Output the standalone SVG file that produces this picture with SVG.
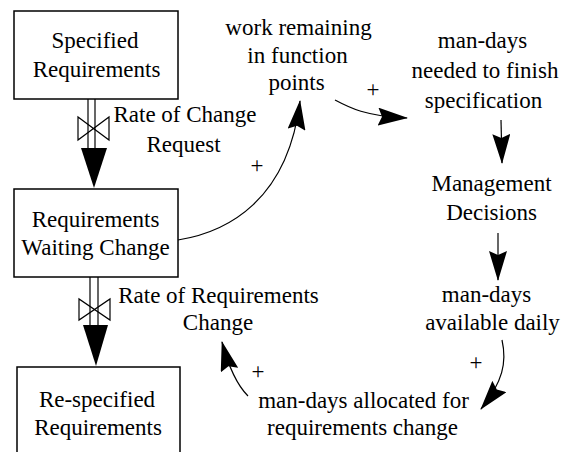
<svg xmlns="http://www.w3.org/2000/svg" width="569" height="452" viewBox="0 0 569 452" font-family="Liberation Serif, serif">
<rect width="569" height="452" fill="#fff"/>

<g id="specified-requirements">
<rect x="14" y="11" width="164" height="88" fill="#fff" stroke="#000" stroke-width="1.5"/>
<text x="95" y="48" style="font-family:'Liberation Serif',serif;font-size:23px" text-anchor="middle" fill="#000">Specified</text>
<text x="96.5" y="77" style="font-family:'Liberation Serif',serif;font-size:23px" text-anchor="middle" fill="#000">Requirements</text>
</g>

<g id="requirements-waiting-change">
<rect x="14" y="189" width="164" height="88" fill="#fff" stroke="#000" stroke-width="1.5"/>
<text x="95.5" y="227" style="font-family:'Liberation Serif',serif;font-size:23px" text-anchor="middle" fill="#000">Requirements</text>
<text x="95.5" y="255" style="font-family:'Liberation Serif',serif;font-size:23px" text-anchor="middle" fill="#000">Waiting Change</text>
</g>

<g id="re-specified-requirements">
<rect x="17" y="367" width="163" height="100" fill="#fff" stroke="#000" stroke-width="1.5"/>
<text x="97" y="407" style="font-family:'Liberation Serif',serif;font-size:23px" text-anchor="middle" fill="#000">Re-specified</text>
<text x="98" y="435" style="font-family:'Liberation Serif',serif;font-size:23px" text-anchor="middle" fill="#000">Requirements</text>
</g>

<g id="rate-of-change-request">
<line x1="88" y1="99" x2="88" y2="150" stroke="#000" stroke-width="1.2"/>
<line x1="95" y1="99" x2="95" y2="150" stroke="#000" stroke-width="1.2"/>
<path d="M78,117 L78,140 L109,117 L109,140 Z" fill="none" stroke="#000" stroke-width="1.2"/>
<polygon points="81,148 107,148 94,188" fill="#000"/>
<text x="185" y="122" style="font-family:'Liberation Serif',serif;font-size:23px" text-anchor="middle" fill="#000">Rate of Change</text>
<text x="183.5" y="152" style="font-family:'Liberation Serif',serif;font-size:23px" text-anchor="middle" fill="#000">Request</text>
</g>

<g id="rate-of-requirements-change">
<line x1="90" y1="277" x2="90" y2="327" stroke="#000" stroke-width="1.2"/>
<line x1="98" y1="277" x2="98" y2="327" stroke="#000" stroke-width="1.2"/>
<path d="M79,299 L79,320 L110,299 L110,320 Z" fill="none" stroke="#000" stroke-width="1.2"/>
<polygon points="83,325 108,325 96,366" fill="#000"/>
<text x="218.5" y="303" style="font-family:'Liberation Serif',serif;font-size:23px" text-anchor="middle" fill="#000">Rate of Requirements</text>
<text x="218" y="330" style="font-family:'Liberation Serif',serif;font-size:23px" text-anchor="middle" fill="#000">Change</text>
</g>

<g id="work-remaining">
<text x="298.5" y="35" style="font-family:'Liberation Serif',serif;font-size:23px" text-anchor="middle" fill="#000">work remaining</text>
<text x="297.5" y="63" style="font-family:'Liberation Serif',serif;font-size:23px" text-anchor="middle" fill="#000">in function</text>
<text x="296.5" y="90" style="font-family:'Liberation Serif',serif;font-size:23px" text-anchor="middle" fill="#000">points</text>
</g>

<g id="man-days-needed">
<text x="482.5" y="48" style="font-family:'Liberation Serif',serif;font-size:23px" text-anchor="middle" fill="#000">man-days</text>
<text x="485" y="78" style="font-family:'Liberation Serif',serif;font-size:23px" text-anchor="middle" fill="#000">needed to finish</text>
<text x="483.5" y="108" style="font-family:'Liberation Serif',serif;font-size:23px" text-anchor="middle" fill="#000">specification</text>
</g>

<g id="management-decisions">
<text x="491.5" y="191" style="font-family:'Liberation Serif',serif;font-size:23px" text-anchor="middle" fill="#000">Management</text>
<text x="491.5" y="220" style="font-family:'Liberation Serif',serif;font-size:23px" text-anchor="middle" fill="#000">Decisions</text>
</g>

<g id="man-days-available">
<text x="486.5" y="302" style="font-family:'Liberation Serif',serif;font-size:23px" text-anchor="middle" fill="#000">man-days</text>
<text x="492.5" y="330" style="font-family:'Liberation Serif',serif;font-size:23px" text-anchor="middle" fill="#000">available daily</text>
</g>

<g id="man-days-allocated">
<text x="363.5" y="408" style="font-family:'Liberation Serif',serif;font-size:23px" text-anchor="middle" fill="#000">man-days allocated for</text>
<text x="362.5" y="435" style="font-family:'Liberation Serif',serif;font-size:23px" text-anchor="middle" fill="#000">requirements change</text>
</g>

<defs>
<marker id="arr" viewBox="0 0 30 18" refX="29" refY="9" markerWidth="30" markerHeight="18" markerUnits="userSpaceOnUse" orient="auto">
<path d="M0,0 L30,9 L0,18 L4,9 Z" fill="#000"/>
</marker>
</defs>

<g id="connectors">
<path d="M178,240 C228,232 288,200 300,101" fill="none" stroke="#000" stroke-width="1.2" marker-end="url(#arr)"/>
<path d="M335,100 C350,108 365,116 407,118" fill="none" stroke="#000" stroke-width="1.2" marker-end="url(#arr)"/>
<path d="M501,120 L502,163" fill="none" stroke="#000" stroke-width="1.2" marker-end="url(#arr)"/>
<path d="M498,233 L498,280" fill="none" stroke="#000" stroke-width="1.2" marker-end="url(#arr)"/>
<path d="M502,340 C507,362 503,382 481,409" fill="none" stroke="#000" stroke-width="1.2" marker-end="url(#arr)"/>
<path d="M248,396 C240,388 230,372 222,342" fill="none" stroke="#000" stroke-width="1.2" marker-end="url(#arr)"/>
<text x="257" y="173" style="font-family:'Liberation Serif',serif;font-size:23px" text-anchor="middle" fill="#000">+</text>
<text x="373" y="97" style="font-family:'Liberation Serif',serif;font-size:23px" text-anchor="middle" fill="#000">+</text>
<text x="258" y="379" style="font-family:'Liberation Serif',serif;font-size:23px" text-anchor="middle" fill="#000">+</text>
<text x="476" y="370" style="font-family:'Liberation Serif',serif;font-size:23px" text-anchor="middle" fill="#000">+</text>
</g>
</svg>
